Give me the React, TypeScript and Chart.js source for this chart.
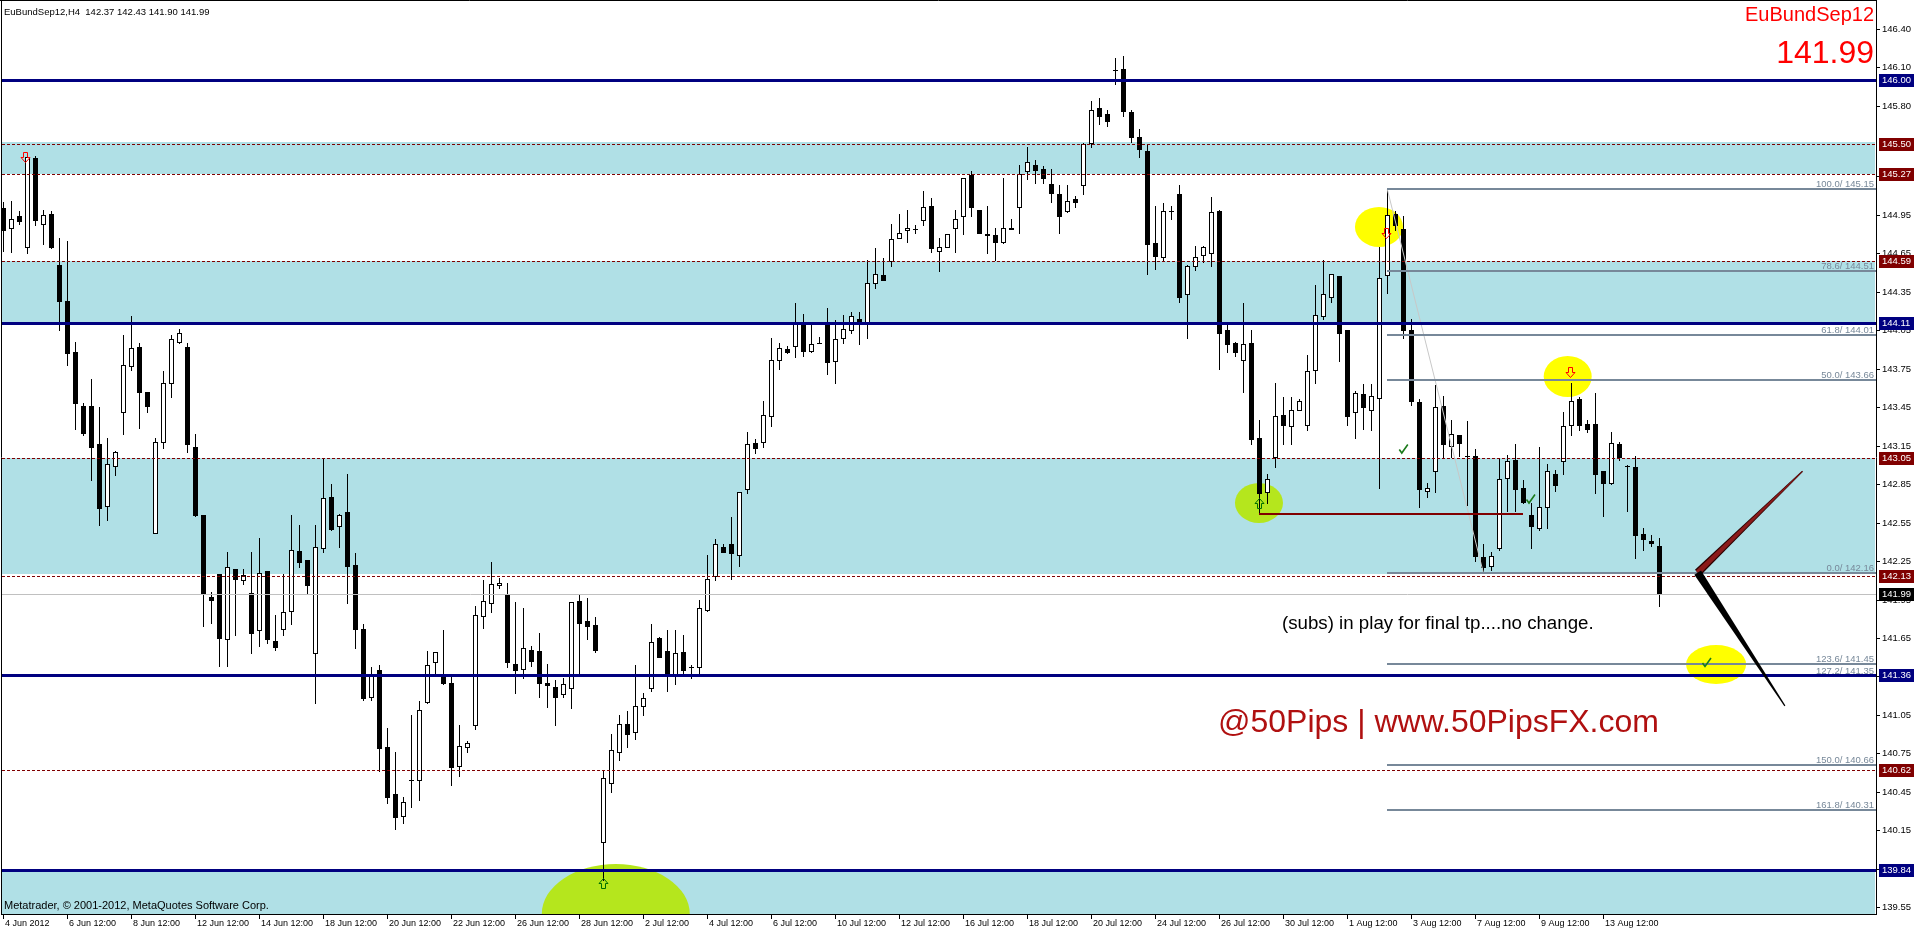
import { useEffect, useRef } from 'react';
import { Chart, registerables } from 'chart.js';

Chart.register(...registerables);

// EuBundSep12, H4 bars (bar index 0 = 4 Jun 2012)
const opens = [
  145.00, 144.85, 144.94, 144.70, 145.39, 144.88, 144.96, 144.56, 144.28, 143.88,
  143.46, 143.46, 143.16, 142.68, 142.99, 143.41, 143.77, 143.92, 143.57, 142.47,
  143.18, 143.64, 143.96, 143.92, 143.14, 142.61, 141.97, 142.15, 141.64, 142.19,
  142.10, 142.00, 141.71, 142.17, 141.63, 141.72, 141.86, 142.33, 142.26, 141.53,
  142.35, 142.75, 142.52, 142.63, 142.22, 141.72, 141.19, 141.40, 140.80, 140.43,
  140.26, 140.54, 140.54, 141.15, 141.46, 141.37, 141.30, 140.65, 140.80, 140.97,
  141.82, 141.92, 142.06, 141.99, 141.45, 141.41, 141.56, 141.55, 141.30, 141.27,
  141.21, 141.26, 141.94, 141.78, 141.75, 140.06, 140.52, 140.76, 140.98, 140.92,
  141.12, 141.26, 141.65, 141.55, 141.36, 141.54, 141.42, 141.42, 141.87, 142.13,
  142.36, 142.38, 142.30, 142.81, 143.17, 143.18, 143.38, 143.82, 143.90, 143.93,
  144.10, 143.89, 143.95, 144.09, 143.81, 143.99, 144.05, 144.14, 144.11, 144.42,
  144.48, 144.59, 144.77, 144.83, 144.84, 144.91, 145.02, 144.67, 144.70, 144.85,
  144.94, 145.26, 144.99, 144.80, 144.79, 144.74, 144.84, 145.01, 145.29, 145.34,
  145.31, 145.19, 145.11, 144.98, 145.07, 145.18, 145.51, 145.78, 145.74, 146.08,
  146.09, 145.75, 145.56, 145.45, 144.73, 144.62, 144.98, 145.11, 144.33, 144.55,
  144.64, 144.65, 144.98, 144.05, 143.95, 143.82, 143.95, 143.21, 142.79, 143.06,
  143.39, 143.30, 143.43, 143.31, 143.74, 144.16, 144.31, 144.47, 144.05, 143.41,
  143.55, 143.43, 143.52, 144.48, 144.96, 144.84, 144.05, 143.49, 142.80, 142.95,
  143.46, 143.15, 143.23, 143.07, 143.07, 142.28, 142.21, 142.35, 142.90, 143.04,
  142.82, 142.61, 142.51, 142.67, 142.93, 143.03, 143.31, 143.51, 143.32, 143.32,
  142.95, 142.86, 143.16, 142.99, 142.98, 142.46, 142.41, 142.37,
];

const highs = [
  145.05, 145.06, 144.98, 145.42, 145.41, 144.99, 144.98, 144.77, 144.75, 143.96,
  143.48, 143.67, 143.45, 143.21, 143.11, 144.01, 144.16, 143.95, 143.57, 143.21,
  143.73, 144.01, 144.06, 143.95, 143.24, 142.61, 142.01, 142.15, 142.32, 142.19,
  142.19, 142.32, 142.43, 142.17, 141.83, 142.15, 142.61, 142.53, 142.26, 142.53,
  143.05, 142.85, 142.62, 142.93, 142.31, 141.76, 141.42, 141.44, 140.95, 140.76,
  140.41, 141.05, 141.16, 141.55, 141.54, 141.71, 141.35, 140.97, 140.85, 141.90,
  142.10, 142.24, 142.12, 142.08, 141.93, 141.88, 141.59, 141.69, 141.45, 141.32,
  141.34, 141.93, 141.99, 141.96, 141.81, 140.62, 140.90, 141.05, 141.08, 141.44,
  141.22, 141.76, 141.66, 141.71, 141.71, 141.67, 141.44, 141.95, 142.30, 142.42,
  142.38, 142.59, 142.79, 143.26, 143.20, 143.50, 143.99, 143.95, 143.93, 144.26,
  144.18, 144.09, 144.00, 144.22, 144.13, 144.17, 144.19, 144.19, 144.60, 144.69,
  144.61, 144.88, 144.96, 144.99, 144.87, 145.14, 145.08, 144.77, 144.80, 144.99,
  145.24, 145.29, 144.99, 145.02, 144.85, 145.24, 144.92, 145.34, 145.48, 145.38,
  145.33, 145.31, 145.18, 145.18, 145.10, 145.51, 145.84, 145.86, 145.77, 146.17,
  146.19, 145.77, 145.62, 145.50, 145.02, 145.04, 145.02, 145.18, 144.56, 144.71,
  144.71, 145.09, 144.99, 144.10, 143.96, 144.26, 144.05, 143.35, 142.93, 143.64,
  143.53, 143.53, 143.51, 143.86, 144.40, 144.60, 144.49, 144.47, 144.05, 143.58,
  143.63, 143.63, 144.70, 145.15, 144.98, 144.94, 144.14, 143.51, 142.86, 143.62,
  143.54, 143.35, 143.23, 143.34, 143.12, 142.38, 142.32, 143.05, 143.08, 143.16,
  142.88, 142.70, 143.14, 143.01, 142.96, 143.41, 143.64, 143.53, 143.35, 143.56,
  142.95, 143.26, 143.18, 143.00, 143.07, 142.51, 142.45, 142.43,
];

const lows = [
  144.67, 144.66, 144.88, 144.65, 144.87, 144.72, 144.69, 144.05, 143.78, 143.28,
  143.23, 142.88, 142.53, 142.57, 142.92, 143.24, 143.74, 143.29, 143.41, 142.47,
  143.13, 143.53, 143.95, 143.10, 142.60, 141.74, 141.77, 141.43, 141.43, 141.67,
  142.07, 141.53, 141.59, 141.61, 141.56, 141.67, 141.76, 142.20, 141.99, 141.14,
  142.32, 142.49, 142.36, 141.92, 141.57, 141.17, 141.17, 140.61, 140.36, 140.16,
  140.21, 140.33, 140.39, 141.14, 141.37, 141.29, 140.50, 140.57, 140.76, 140.94,
  141.73, 141.85, 142.04, 141.42, 141.22, 141.34, 141.43, 141.19, 141.11, 140.97,
  141.19, 141.10, 141.36, 141.64, 141.54, 139.76, 140.45, 140.70, 140.80, 140.86,
  141.05, 141.24, 141.50, 141.24, 141.29, 141.36, 141.34, 141.36, 141.86, 142.10,
  142.32, 142.11, 142.21, 142.78, 143.09, 143.14, 143.30, 143.75, 143.87, 143.84,
  143.85, 143.88, 143.95, 143.71, 143.64, 143.95, 144.03, 143.94, 143.99, 144.38,
  144.44, 144.55, 144.77, 144.74, 144.81, 144.87, 144.66, 144.51, 144.70, 144.66,
  144.80, 144.94, 144.81, 144.65, 144.60, 144.73, 144.84, 144.81, 145.23, 145.20,
  145.20, 145.05, 144.81, 144.97, 145.01, 145.11, 145.48, 145.66, 145.64, 145.97,
  145.72, 145.52, 145.40, 144.49, 144.53, 144.60, 144.92, 144.27, 143.99, 144.52,
  144.58, 144.55, 143.75, 143.88, 143.85, 143.57, 143.16, 142.62, 142.70, 142.98,
  143.16, 143.16, 143.43, 143.27, 143.64, 144.14, 144.27, 143.81, 143.31, 143.21,
  143.28, 143.27, 142.82, 144.34, 144.83, 143.99, 143.47, 142.67, 142.75, 142.79,
  143.05, 143.06, 143.07, 142.69, 142.25, 142.16, 142.18, 142.34, 142.64, 142.64,
  142.70, 142.35, 142.49, 142.51, 142.80, 142.93, 143.23, 143.27, 143.26, 142.78,
  142.60, 142.85, 143.04, 142.64, 142.27, 142.34, 142.37, 141.90,
];

const closes = [
  144.83, 144.92, 144.90, 145.40, 144.91, 144.95, 144.70, 144.28, 143.87, 143.48,
  143.25, 143.14, 142.66, 143.01, 143.10, 143.78, 143.91, 143.57, 143.46, 143.18,
  143.64, 143.98, 144.03, 143.16, 142.61, 141.99, 141.95, 141.65, 142.20, 142.11,
  142.14, 141.69, 142.16, 141.64, 141.58, 141.85, 142.34, 142.24, 142.06, 142.36,
  142.74, 142.50, 142.61, 142.21, 141.72, 141.18, 141.35, 140.79, 140.41, 140.25,
  140.37, 140.54, 141.09, 141.44, 141.54, 141.30, 140.64, 140.81, 140.83, 141.83,
  141.94, 142.07, 142.08, 141.46, 141.40, 141.57, 141.47, 141.30, 141.28, 141.19,
  141.29, 141.93, 141.77, 141.74, 141.56, 140.56, 140.78, 140.98, 140.90, 141.12,
  141.18, 141.62, 141.50, 141.36, 141.53, 141.40, 141.42, 141.88, 142.11, 142.38,
  142.32, 142.31, 142.79, 143.16, 143.13, 143.39, 143.82, 143.91, 143.88, 144.10,
  143.89, 143.94, 143.95, 143.80, 143.98, 144.06, 144.16, 144.11, 144.42, 144.49,
  144.44, 144.76, 144.81, 144.85, 144.84, 145.01, 144.69, 144.70, 144.80, 144.92,
  145.24, 145.01, 144.81, 144.79, 144.74, 144.85, 144.85, 145.27, 145.36, 145.30,
  145.24, 145.12, 144.94, 145.06, 145.05, 145.50, 145.77, 145.72, 145.68, 146.08,
  145.76, 145.56, 145.46, 144.72, 144.63, 144.98, 144.98, 144.31, 144.55, 144.62,
  144.70, 144.97, 144.03, 143.94, 143.88, 143.94, 143.20, 142.78, 142.89, 143.38,
  143.31, 143.43, 143.50, 143.73, 144.17, 144.33, 144.49, 144.03, 143.38, 143.56,
  143.45, 143.54, 144.46, 144.95, 144.87, 144.05, 143.50, 142.81, 142.82, 143.45,
  143.16, 143.24, 143.17, 143.07, 142.29, 142.20, 142.29, 142.89, 143.03, 142.81,
  142.71, 142.52, 142.67, 142.95, 142.84, 143.30, 143.50, 143.31, 143.28, 142.93,
  142.86, 143.17, 143.06, 142.99, 142.45, 142.42, 142.39, 141.99,
];

// time axis
const timeLabels = [
  '4 Jun 2012', '6 Jun 12:00', '8 Jun 12:00', '12 Jun 12:00', '14 Jun 12:00', '18 Jun 12:00',
  '20 Jun 12:00', '22 Jun 12:00', '26 Jun 12:00', '28 Jun 12:00', '2 Jul 12:00', '4 Jul 12:00',
  '6 Jul 12:00', '10 Jul 12:00', '12 Jul 12:00', '16 Jul 12:00', '18 Jul 12:00', '20 Jul 12:00',
  '24 Jul 12:00', '26 Jul 12:00', '30 Jul 12:00', '1 Aug 12:00', '3 Aug 12:00', '7 Aug 12:00',
  '9 Aug 12:00', '13 Aug 12:00',
];
const timeLabelBars = [
  0, 8, 16, 24, 32, 40, 48, 56, 64, 72, 80, 88, 96, 104, 112, 120, 128, 136, 144, 152, 160,
  168, 176, 184, 192, 200,
];

// price axis
const priceTicks = [
  146.40, 146.10, 145.80, 145.25, 144.95, 144.65, 144.35, 144.05, 143.75, 143.45, 143.15,
  142.85, 142.55, 142.25, 141.95, 141.65, 141.35, 141.05, 140.75, 140.45, 140.15, 139.85, 139.55,
];

// zones (from / to)
const zoneFrom = [145.27, 144.11, 142.15, 139.30];
const zoneTo = [145.52, 144.59, 143.05, 139.85];

// horizontal levels
const dashedLevels = [145.50, 145.27, 144.59, 143.05, 142.13, 140.62];
const solidLevels = [146.00, 144.11, 141.36, 139.84];
const bidPrice = 141.99;

// Fibonacci from the 1 Aug high to the 7 Aug low
const fibRatios = [100.0, 78.6, 61.8, 50.0, 0.0, 123.6, 127.2, 150.0, 161.8];
const fibPrices = [145.15, 144.51, 144.01, 143.66, 142.16, 141.45, 141.35, 140.66, 140.31];
const fibFromBar = 173;
const fibToBar = 185;

// support line drawn from the 26 Jul low
const supportPrice = 142.62;
const supportFromBar = 157;
const supportToBar = 190;

// projected paths
const pathStartBar = 211.8;
const pathStartPrice = 142.16;
const pathUpBar = 224.9;
const pathUpPrice = 142.95;
const pathDownBar = 222.7;
const pathDownPrice = 141.12;

// highlight ellipses: bar, price, half-width (bars), half-height (price)
const ellipseBar = [171.96, 195.55, 214.1, 156.96, 76.56];
const ellipsePrice = [144.856, 143.689, 141.443, 142.703, 139.497];
const ellipseBars = [3, 3, 3.75, 3, 9.25];
const ellipseSpan = [0.156, 0.16, 0.152, 0.156, 0.39];
const ellipseColor = ['#FFFF00', '#FFFF00', '#FFFF00', '#B5E61D', '#B5E61D'];

// signal arrows
const sellBars = [2.75, 172.8, 195.8];
const sellPrices = [145.44, 144.85, 143.76];
const buyBars = [157, 75];
const buyPrices = [142.66, 139.70];
const tickBars = [175, 190.9, 212.9];
const tickPrices = [143.12, 142.73, 141.455];

const markerPrices = [146.00, 145.50, 145.27, 144.59, 144.11, 143.05, 142.13, 141.99, 141.36, 140.62, 139.84];
const markerColors = ['#000080', '#800000', '#800000', '#800000', '#000080', '#800000', '#800000', '#000000', '#000080', '#800000', '#000080'];

const FONT = '"Liberation Sans", Arial, sans-serif';

function drawSellArrow(ctx: any, cx: number, top: number) {
  ctx.beginPath();
  ctx.moveTo(cx - 2, top);
  ctx.lineTo(cx + 2, top);
  ctx.lineTo(cx + 2, top + 5);
  ctx.lineTo(cx + 4.5, top + 5);
  ctx.lineTo(cx, top + 10);
  ctx.lineTo(cx - 4.5, top + 5);
  ctx.lineTo(cx - 2, top + 5);
  ctx.closePath();
  ctx.strokeStyle = '#FF0000';
  ctx.lineWidth = 1;
  ctx.stroke();
}

function drawBuyArrow(ctx: any, cx: number, bottom: number) {
  ctx.beginPath();
  ctx.moveTo(cx - 2, bottom);
  ctx.lineTo(cx + 2, bottom);
  ctx.lineTo(cx + 2, bottom - 5);
  ctx.lineTo(cx + 4.5, bottom - 5);
  ctx.lineTo(cx, bottom - 10);
  ctx.lineTo(cx - 4.5, bottom - 5);
  ctx.lineTo(cx - 2, bottom - 5);
  ctx.closePath();
  ctx.strokeStyle = '#007000';
  ctx.lineWidth = 1;
  ctx.stroke();
}

function drawTick(ctx: any, cx: number, cy: number) {
  ctx.beginPath();
  ctx.moveTo(cx - 4, cy);
  ctx.lineTo(cx - 1.5, cy + 3.5);
  ctx.lineTo(cx + 4.5, cy - 5);
  ctx.strokeStyle = '#1A7A1A';
  ctx.lineWidth = 1.6;
  ctx.stroke();
}

function drawWedge(ctx: any, x0: number, y0: number, x1: number, y1: number, w0: number, w1: number, fill: string) {
  const dx = x1 - x0;
  const dy = y1 - y0;
  const len = Math.hypot(dx, dy);
  const nx = -dy / len;
  const ny = dx / len;
  ctx.beginPath();
  ctx.moveTo(x0 + nx * w0, y0 + ny * w0);
  ctx.lineTo(x1 + nx * w1, y1 + ny * w1);
  ctx.lineTo(x1 - nx * w1, y1 - ny * w1);
  ctx.lineTo(x0 - nx * w0, y0 - ny * w0);
  ctx.closePath();
  ctx.fillStyle = fill;
  ctx.fill();
}

const terminalPlugin = {
  id: 'terminalDraw',
  afterDatasetsDraw(chart: any) {
    const { ctx, chartArea: a } = chart;
    const xs = chart.scales.x;
    const ys = chart.scales.y;
    const X = (i: number) => xs.getPixelForValue(i);
    const Y = (p: number) => ys.getPixelForValue(p);

    ctx.save();
    ctx.beginPath();
    ctx.rect(a.left, a.top, a.right - a.left, a.bottom - a.top);
    ctx.clip();

    // zones
    ctx.fillStyle = '#B0E0E6';
    zoneFrom.forEach((from, k) => {
      const yTop = Math.round(Y(zoneTo[k]));
      const yBot = Math.round(Y(from));
      ctx.fillRect(a.left + 1, yTop, a.right - a.left - 2, yBot - yTop);
    });

    // ellipses
    ellipseBar.forEach((b, k) => {
      const cx = X(b);
      const cy = Y(ellipsePrice[k]);
      const rx = Math.abs(X(b + ellipseBars[k]) - cx);
      const ry = Math.abs(Y(ellipsePrice[k] + ellipseSpan[k]) - cy);
      ctx.beginPath();
      ctx.ellipse(cx, cy, rx, ry, 0, 0, Math.PI * 2);
      ctx.fillStyle = ellipseColor[k];
      ctx.fill();
    });

    // candles
    for (let i = 0; i < closes.length; i++) {
      const x = Math.round(X(i));
      const yh = Math.round(Y(highs[i]));
      const yl = Math.round(Y(lows[i]));
      ctx.fillStyle = '#000000';
      ctx.fillRect(x, yh, 1, Math.max(1, yl - yh + 1));
      const o = opens[i];
      const c = closes[i];
      const yt = Math.round(Y(Math.max(o, c)));
      const yb = Math.round(Y(Math.min(o, c)));
      if (c > o) {
        ctx.fillRect(x - 2, yt, 5, yb - yt + 1);
        if (yb - yt > 1) {
          ctx.fillStyle = '#FFFFFF';
          ctx.fillRect(x - 1, yt + 1, 3, yb - yt - 1);
        }
      } else if (c < o) {
        ctx.fillRect(x - 2, yt, 5, yb - yt + 1);
      } else {
        ctx.fillRect(x - 2, yt, 5, 1);
      }
    }

    // bid line
    ctx.strokeStyle = '#C0C0C0';
    ctx.lineWidth = 1;
    ctx.beginPath();
    ctx.moveTo(a.left + 1, Math.round(Y(bidPrice)) + 0.5);
    ctx.lineTo(a.right, Math.round(Y(bidPrice)) + 0.5);
    ctx.stroke();

    // dashed levels
    ctx.setLineDash([3, 2]);
    ctx.strokeStyle = '#800000';
    dashedLevels.forEach((p) => {
      const y = Math.round(Y(p)) + 0.5;
      ctx.beginPath();
      ctx.moveTo(a.left + 1, y);
      ctx.lineTo(a.right, y);
      ctx.stroke();
    });
    ctx.setLineDash([]);

    // fibonacci
    const fx0 = Math.round(X(fibFromBar));
    ctx.strokeStyle = '#C8C8C8';
    ctx.lineWidth = 1;
    ctx.beginPath();
    ctx.moveTo(X(fibFromBar), Y(fibPrices[0]));
    ctx.lineTo(X(fibToBar), Y(fibPrices[4]));
    ctx.stroke();
    ctx.strokeStyle = '#778899';
    ctx.lineWidth = 2;
    ctx.font = '9.5px ' + FONT;
    ctx.fillStyle = '#778899';
    ctx.textAlign = 'right';
    ctx.textBaseline = 'alphabetic';
    fibPrices.forEach((p, k) => {
      const y = Math.round(Y(p));
      ctx.beginPath();
      ctx.moveTo(fx0, y);
      ctx.lineTo(a.right, y);
      ctx.stroke();
      ctx.fillText(fibRatios[k].toFixed(1) + '/ ' + p.toFixed(2), a.right - 2, y - 2);
    });

    // solid levels
    ctx.strokeStyle = '#000080';
    ctx.lineWidth = 3;
    solidLevels.forEach((p) => {
      const y = Math.round(Y(p)) + 0.5;
      ctx.beginPath();
      ctx.moveTo(a.left + 1, y);
      ctx.lineTo(a.right, y);
      ctx.stroke();
    });

    // support line
    ctx.strokeStyle = '#800000';
    ctx.lineWidth = 2;
    ctx.beginPath();
    ctx.moveTo(Math.round(X(supportFromBar)), Math.round(Y(supportPrice)));
    ctx.lineTo(Math.round(X(supportToBar)), Math.round(Y(supportPrice)));
    ctx.stroke();

    // projected paths
    const sx = X(pathStartBar);
    const sy = Y(pathStartPrice);
    drawWedge(ctx, sx, sy, X(pathUpBar), Y(pathUpPrice), 4, 0.6, '#2a0000');
    drawWedge(ctx, sx, sy, X(pathUpBar), Y(pathUpPrice), 2.6, 0.3, '#8B1A1A');
    drawWedge(ctx, sx, sy, X(pathDownBar), Y(pathDownPrice), 4, 0.6, '#000000');

    // signals
    sellBars.forEach((b, k) => drawSellArrow(ctx, Math.round(X(b)) + 0.5, Math.round(Y(sellPrices[k])) + 0.5));
    buyBars.forEach((b, k) => drawBuyArrow(ctx, Math.round(X(b)) + 0.5, Math.round(Y(buyPrices[k])) + 0.5));
    tickBars.forEach((b, k) => drawTick(ctx, X(b), Y(tickPrices[k])));

    ctx.restore();

    // frame
    ctx.save();
    ctx.strokeStyle = '#000000';
    ctx.lineWidth = 1;
    ctx.beginPath();
    ctx.moveTo(1.5, 0);
    ctx.lineTo(1.5, a.bottom + 1);
    ctx.moveTo(0, 0.5);
    ctx.lineTo(a.right + 1, 0.5);
    ctx.moveTo(a.right + 0.5, 0);
    ctx.lineTo(a.right + 0.5, a.bottom + 1);
    ctx.moveTo(1, a.bottom + 0.5);
    ctx.lineTo(a.right + 1, a.bottom + 0.5);
    ctx.stroke();

    // price axis
    ctx.fillStyle = '#000000';
    ctx.font = '9.5px ' + FONT;
    ctx.textAlign = 'left';
    ctx.textBaseline = 'middle';
    priceTicks.forEach((p) => {
      const y = Math.round(Y(p));
      ctx.fillRect(a.right + 1, y, 3, 1);
      ctx.fillText(p.toFixed(2), a.right + 6, y + 0.5);
    });
    markerPrices.forEach((p, k) => {
      const y = Math.round(Y(p));
      ctx.fillStyle = markerColors[k];
      ctx.fillRect(a.right + 3, y - 6, 35, 13);
      ctx.fillStyle = '#FFFFFF';
      ctx.fillText(p.toFixed(2), a.right + 6, y + 0.5);
    });

    // time axis
    ctx.fillStyle = '#000000';
    ctx.font = '9px ' + FONT;
    timeLabels.forEach((t, k) => {
      const x = Math.round(X(timeLabelBars[k]));
      ctx.fillRect(x, a.bottom + 1, 1, 4);
      ctx.fillText(t, x + 2, a.bottom + 9.5);
    });

    // captions
    ctx.textBaseline = 'alphabetic';
    ctx.font = '9.5px ' + FONT;
    ctx.fillText('EuBundSep12,H4  142.37 142.43 141.90 141.99', 4, 15);

    ctx.fillStyle = '#FF0000';
    ctx.textAlign = 'right';
    ctx.font = '20px ' + FONT;
    ctx.fillText('EuBundSep12', 1874, 21);
    ctx.font = '32px ' + FONT;
    ctx.fillText('141.99', 1874, 63);

    ctx.textAlign = 'left';
    ctx.textBaseline = 'middle';
    ctx.fillStyle = '#000000';
    ctx.font = '11px ' + FONT;
    ctx.fillText('Metatrader, \u00A9 2001-2012, MetaQuotes Software Corp.', 4, 906);

    ctx.font = '18.7px ' + FONT;
    ctx.fillText('(subs) in play for final tp....no change.', 1282, 624);

    ctx.fillStyle = '#B01010';
    ctx.font = '32px ' + FONT;
    ctx.fillText('@50Pips | www.50PipsFX.com', 1218, 723);
    ctx.restore();
  },
};

export default function App() {
  const canvasRef = useRef<HTMLCanvasElement>(null);

  useEffect(() => {
    const canvas = canvasRef.current;
    if (!canvas) return;
    const chart = new Chart(canvas, {
      type: 'scatter',
      data: {
        datasets: [
          {
            data: closes.map((c, i) => ({ x: i, y: c })),
            pointRadius: 0,
            showLine: false,
          },
        ],
      },
      options: {
        responsive: false,
        animation: false,
        devicePixelRatio: 1,
        events: [],
        layout: { padding: { left: 1, top: 0, right: 38, bottom: 17 } },
        plugins: { legend: { display: false }, tooltip: { enabled: false } },
        scales: {
          x: { type: 'linear', display: false, min: -0.2875, max: 234.0875 },
          y: { type: 'linear', display: false, min: 139.497, max: 146.626 },
        },
      },
      plugins: [terminalPlugin],
    } as any);
    return () => chart.destroy();
  }, []);

  return (
    <div style={{ position: 'absolute', left: 0, top: 0, width: 1914, height: 931, background: '#FFFFFF' }}>
      <canvas ref={canvasRef} width={1914} height={931} style={{ display: 'block', width: 1914, height: 931 }} />
    </div>
  );
}
